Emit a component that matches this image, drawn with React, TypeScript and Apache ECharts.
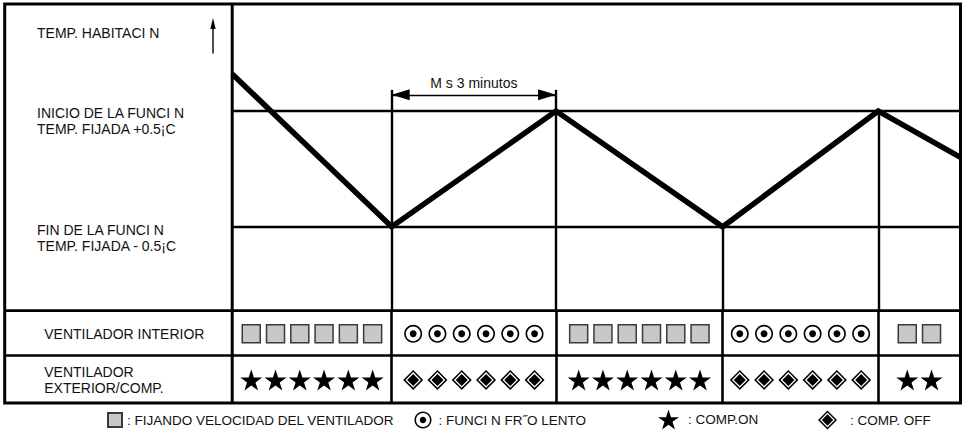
import React, { useEffect, useRef } from 'react';
import * as echarts from 'echarts';

const FONT = "'Liberation Sans', Arial, sans-serif";
const INK = '#111111';
const FS = 14;

// time axis in minutes, boundaries between operating phases
const phaseBounds = [0, 2.91, 5.91, 8.95, 11.79, 13.29];
// room temperature relative to set temperature (°C)
const tempX = [0, 2.91, 5.91, 8.95, 11.79, 13.29];
const tempY = [0.82, -0.5, 0.5, -0.5, 0.5, 0.1];
const thresholdY = [0.5, -0.5];
const dividerTops = [0.683, 0.683, -0.5, 0.5];
const dimension = [2.91, 5.91];
const dimensionY = 0.64;
const dimensionLabel = 'M s 3 minutos';

const rowNames = ['VENTILADOR INTERIOR', 'VENTILADOR\nEXTERIOR/COMP.'];
const indoorFan = ['fix', 'slow', 'fix', 'slow', 'fix'];
const compressor = ['on', 'off', 'on', 'off', 'on'];
const iconCounts = [6, 6, 6, 6, 2];

const leftLabels = [
  'TEMP. HABITACI N',
  'INICIO DE LA FUNCI N\nTEMP. FIJADA +0.5¡C',
  'FIN DE LA FUNCI N\nTEMP. FIJADA - 0.5¡C',
];
const legendNames = ['FIJANDO VELOCIDAD DEL VENTILADOR', 'FUNCI N FR˝O LENTO', 'COMP.ON', 'COMP. OFF'];

const ICON_STEP = 0.443;

const STAR = 'path://M50,0L61.23,34.55L97.55,34.55L68.16,55.9L79.39,90.45L50,69.1L20.61,90.45L31.84,55.9L2.45,34.55L38.77,34.55Z';
const DOT_CIRCLE =
  'path://M50,0C77.6,0,100,22.4,100,50C100,77.6,77.6,100,50,100C22.4,100,0,77.6,0,50C0,22.4,22.4,0,50,0Z' +
  'M50,9C27.36,9,9,27.36,9,50C9,72.64,27.36,91,50,91C72.64,91,91,72.64,91,50C91,27.36,72.64,9,50,9Z' +
  'M50,31C60.49,31,69,39.51,69,50C69,60.49,60.49,69,50,69C39.51,69,31,60.49,31,50C31,39.51,39.51,31,50,31Z';
const DIAMOND_DOT = 'path://M50,0L100,50L50,100L0,50ZM50,11L11,50L50,89L89,50ZM50,20L80,50L50,80L20,50Z';

function cellPoints(kinds: string[], kind: string, row: number) {
  const pts: number[][] = [];
  kinds.forEach((k, p) => {
    if (k !== kind) return;
    const c = (phaseBounds[p] + phaseBounds[p + 1]) / 2;
    const n = iconCounts[p];
    for (let i = 0; i < n; i++) pts.push([c + (i - (n - 1) / 2) * ICON_STEP, row]);
  });
  return pts;
}

const X_MAX = phaseBounds[phaseBounds.length - 1];
const Y_MIN = -1.225;
const Y_MAX = 1.425;

export default function App() {
  const ref = useRef<HTMLDivElement>(null);
  useEffect(() => {
    if (!ref.current) return;
    const chart = echarts.init(ref.current, null, { renderer: 'svg' });
    const lineStyleThin = { color: '#000', width: 2.4, type: 'solid' as const };

    const tempMarks: any[] = [
      ...thresholdY.map((y) => ({ yAxis: y })),
      ...phaseBounds.slice(1, 5).map((x, i) => [
        { coord: [x, dividerTops[i]] },
        { coord: [x, Y_MIN] },
      ]),
      [
        {
          coord: [dimension[0], dimensionY],
          symbol: 'triangle',
          symbolSize: [11, 18],
          symbolOffset: [0, 9],
          lineStyle: { color: '#000', width: 1.4, type: 'solid' },
          label: {
            show: true,
            position: 'insideMiddleTop',
            formatter: dimensionLabel,
            distance: 5,
            color: INK,
            fontFamily: FONT,
            fontSize: FS,
          },
        },
        {
          coord: [dimension[1], dimensionY],
          symbol: 'triangle',
          symbolSize: [11, 18],
          symbolOffset: [0, 9],
        },
      ],
    ];

    const legendLeft = [107, 414.5, 658, 818];
    const legendSize = [14, 17, 21, 19];
    const legendGap = [0, 2, 4, 8];

    chart.setOption({
      animation: false,
      backgroundColor: '#ffffff',
      textStyle: { fontFamily: FONT },
      grid: [
        { left: 232.2, right: 2.5, top: 4, height: 306.7 },
        { left: 232.2, right: 2.5, top: 310.7, height: 92.3 },
      ],
      xAxis: [
        { type: 'value', gridIndex: 0, min: 0, max: X_MAX, show: false },
        { type: 'value', gridIndex: 1, min: 0, max: X_MAX, show: false },
      ],
      yAxis: [
        { type: 'value', gridIndex: 0, min: Y_MIN, max: Y_MAX, show: false },
        {
          type: 'category',
          gridIndex: 1,
          inverse: true,
          data: rowNames,
          axisLine: { show: false },
          axisTick: { show: false },
          splitLine: { show: false },
          axisLabel: {
            interval: 0,
            align: 'left',
            margin: 188,
            fontFamily: FONT,
            fontSize: FS,
            lineHeight: 16,
            color: INK,
          },
        },
      ],
      legend: legendNames.map((name, i) => ({
        data: [name],
        left: legendLeft[i],
        top: 420 - Math.max(legendSize[i], 16) / 2,
        padding: 0,
        itemWidth: legendSize[i],
        itemHeight: legendSize[i],
        selectedMode: false,
        formatter: ': {name}',
        textStyle: {
          fontFamily: FONT,
          fontSize: 13.5,
          color: INK,
          lineHeight: 16,
          padding: [0, 0, 0, legendGap[i]],
        },
      })),
      series: [
        {
          type: 'line',
          name: 'temp',
          xAxisIndex: 0,
          yAxisIndex: 0,
          data: tempX.map((x, i) => [x, tempY[i]]),
          symbol: 'none',
          lineStyle: { color: '#000', width: 5.5, join: 'miter' },
          z: 5,
          markLine: {
            silent: true,
            symbol: 'none',
            label: { show: false },
            lineStyle: lineStyleThin,
            data: tempMarks,
          },
        },
        {
          type: 'scatter',
          name: legendNames[0],
          xAxisIndex: 1,
          yAxisIndex: 1,
          symbol: 'rect',
          symbolSize: 18,
          itemStyle: { color: '#c8c8c8', borderColor: '#3a3a3a', borderWidth: 1.5, opacity: 1 },
          data: cellPoints(indoorFan, 'fix', 0),
          markLine: {
            silent: true,
            symbol: 'none',
            label: { show: false },
            lineStyle: { color: '#000', width: 2.6, type: 'solid' },
            data: phaseBounds.slice(1, 5).map((x) => ({ xAxis: x })),
          },
        },
        {
          type: 'scatter',
          name: legendNames[1],
          xAxisIndex: 1,
          yAxisIndex: 1,
          symbol: DOT_CIRCLE,
          symbolSize: 18,
          itemStyle: { color: '#000', opacity: 1 },
          data: cellPoints(indoorFan, 'slow', 0),
        },
        {
          type: 'scatter',
          name: legendNames[2],
          xAxisIndex: 1,
          yAxisIndex: 1,
          symbol: STAR,
          symbolSize: [22, 21],
          itemStyle: { color: '#000', opacity: 1 },
          data: cellPoints(compressor, 'on', 1),
        },
        {
          type: 'scatter',
          name: legendNames[3],
          xAxisIndex: 1,
          yAxisIndex: 1,
          symbol: DIAMOND_DOT,
          symbolSize: 20,
          itemStyle: { color: '#000', opacity: 1 },
          data: cellPoints(compressor, 'off', 1),
        },
      ],
      graphic: [
        {
          type: 'rect',
          z: 10,
          shape: { x: 4.7, y: 4, width: 955.8, height: 399 },
          style: { fill: 'none', stroke: '#000', lineWidth: 3 },
        },
        {
          type: 'line',
          z: 10,
          shape: { x1: 232.2, y1: 4, x2: 232.2, y2: 403 },
          style: { stroke: '#000', lineWidth: 3 },
        },
        {
          type: 'line',
          z: 10,
          shape: { x1: 4.7, y1: 310.7, x2: 960.5, y2: 310.7 },
          style: { stroke: '#000', lineWidth: 2.7 },
        },
        {
          type: 'line',
          z: 10,
          shape: { x1: 4.7, y1: 355.5, x2: 960.5, y2: 355.5 },
          style: { stroke: '#000', lineWidth: 2.7 },
        },
        {
          type: 'line',
          z: 10,
          shape: { x1: 213, y1: 27, x2: 213, y2: 53.5 },
          style: { stroke: '#000', lineWidth: 1.4 },
        },
        {
          type: 'polygon',
          z: 10,
          shape: { points: [[213, 18], [210.3, 29], [215.7, 29]] },
          style: { fill: '#000' },
        },
        ...leftLabels.map((t, i) => ({
          type: 'text',
          z: 10,
          x: 37,
          y: [32.5, 120.7, 238][i],
          style: {
            text: t,
            fill: INK,
            fontFamily: FONT,
            fontSize: FS,
            lineHeight: 16,
            textAlign: 'left',
            textVerticalAlign: 'middle',
          },
        })),
      ],
    });
    return () => chart.dispose();
  }, []);
  return (
    <div
      ref={ref}
      style={{ position: 'fixed', left: 0, top: 0, width: 963, height: 434, background: '#fff' }}
    />
  );
}
